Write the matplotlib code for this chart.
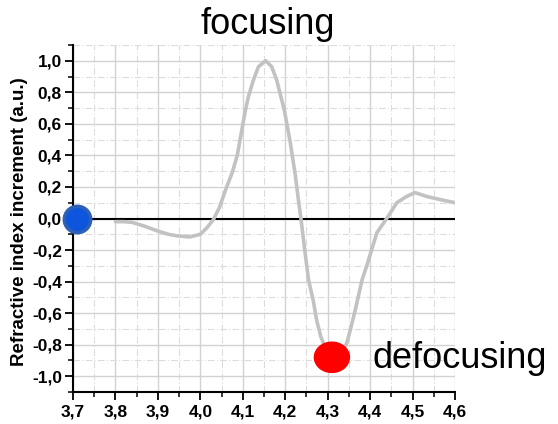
import matplotlib
matplotlib.use("Agg")
import matplotlib.pyplot as plt
from matplotlib.patches import Ellipse
import numpy as np

plt.rcParams['font.family'] = ['Liberation Sans', 'DejaVu Sans']

# data
curve_x = [3.80, 3.82, 3.84, 3.87, 3.90, 3.925, 3.945, 3.975, 4.00, 4.015, 4.031, 4.045,
           4.062, 4.075, 4.087, 4.097, 4.105, 4.113, 4.125, 4.137, 4.154, 4.168, 4.18, 4.19,
           4.198, 4.212, 4.224, 4.231, 4.237, 4.246, 4.255, 4.266, 4.274, 4.284, 4.29,
           4.30, 4.315, 4.33, 4.345, 4.353, 4.365, 4.381, 4.392, 4.416,
           4.439, 4.463, 4.486, 4.506, 4.533, 4.565, 4.60]
curve_y = [-0.02, -0.02, -0.025, -0.05, -0.08, -0.10, -0.11, -0.117, -0.10, -0.06, -0.006, 0.07,
           0.20, 0.29, 0.40, 0.55, 0.67, 0.77, 0.877, 0.963, 1.0, 0.963, 0.877, 0.77,
           0.686, 0.48, 0.27, 0.12, 0.0, -0.20, -0.39, -0.52, -0.645, -0.75, -0.79,
           -0.86, -0.90, -0.87, -0.79, -0.71, -0.58, -0.39, -0.30, -0.09,
           0.0, 0.10, 0.14, 0.164, 0.14, 0.12, 0.10]
focus_point = (3.71, 0.0)
defocus_point = (4.31, -0.88)
x_ticks = [3.7, 3.8, 3.9, 4.0, 4.1, 4.2, 4.3, 4.4, 4.5, 4.6]
x_ticklabels = ["3,7", "3,8", "3,9", "4,0", "4,1", "4,2", "4,3", "4,4", "4,5", "4,6"]
y_ticks = [-1.0, -0.8, -0.6, -0.4, -0.2, 0.0, 0.2, 0.4, 0.6, 0.8, 1.0]
y_ticklabels = ["-1,0", "-0,8", "-0,6", "-0,4", "-0,2", "0,0", "0,2", "0,4", "0,6", "0,8", "1,0"]

fig = plt.figure(figsize=(5.58, 4.24), dpi=100)
ax = fig.add_axes([73/558, 1-392/424, (455-73)/558, (392-45)/424])
ax.set_xlim(3.7, 4.6)
ax.set_ylim(-1.1, 1.1)

ax.set_xticks(x_ticks)
ax.set_xticklabels(x_ticklabels, fontweight='bold', fontsize=12.5)
ax.set_yticks(y_ticks)
ax.set_yticklabels(y_ticklabels, fontweight='bold', fontsize=12.5)
ax.set_xticks(np.arange(3.75, 4.6, 0.1), minor=True)
ax.set_yticks(np.arange(-1.1, 1.11, 0.2), minor=True)

ax.grid(which='major', color='#d2d2d2', lw=1.0, ls='-')
ax.grid(which='minor', color='#dcdcdc', lw=0.8, ls=(0, (6, 2, 1, 2)))
ax.set_axisbelow(True)

for s in ['top', 'right']:
    ax.spines[s].set_visible(False)
for s in ['left', 'bottom']:
    ax.spines[s].set_linewidth(1.5)
ax.tick_params(which='major', direction='out', length=6, width=1.3, pad=2)
ax.tick_params(axis='x', which='major', pad=3)
ax.tick_params(which='minor', direction='out', length=3.5, width=1.1)

ax.axhline(0, color='black', lw=1.5, zorder=2)
ax.plot(curve_x, curve_y, color='#c2c2c2', lw=2.6, zorder=3,
        solid_capstyle='round', solid_joinstyle='round')

ax.plot([focus_point[0]], [focus_point[1]], 'o', ms=19, mfc='#0d55dc', mec='#2d60b6',
        mew=2.5, zorder=5, clip_on=False)
ax.add_patch(Ellipse(defocus_point, width=35/424, height=30/156.5, color='#ff0000',
                     zorder=5, clip_on=False))

ax.set_ylabel("Refractive index increment (a.u.)", fontweight='bold', fontsize=13.5)
ax.yaxis.set_label_coords(-0.118, 0.49)

fig.text(268/558, 1-25/424, "focusing", fontsize=26, ha='center', va='center')
fig.text(373/558, 1-358/424, "defocusing", fontsize=26, ha='left', va='center')

fig.savefig("out.png", dpi=100)
